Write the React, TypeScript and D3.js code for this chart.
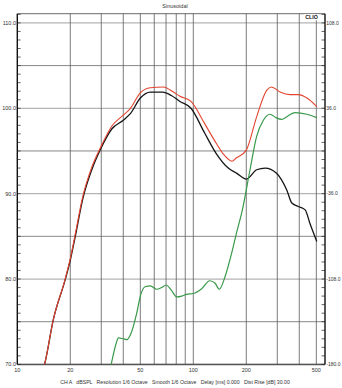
import React from "react";
import * as d3 from "d3";

const blackFreq = [13, 14.4, 16, 18.7, 20, 21.5, 23.5, 26.5, 29.7, 34.5, 40, 44, 50, 57, 67, 75, 84, 97, 116, 135, 158, 176, 200, 229, 256, 297, 340, 363, 395, 432, 460, 503];
const blackDb = [67.5, 70.3, 75.2, 79.9, 82.2, 85.3, 89.3, 92.8, 95.2, 97.6, 98.6, 99.4, 101.2, 101.9, 101.9, 101.5, 100.8, 100.0, 97.1, 94.7, 93.0, 92.4, 91.7, 92.8, 93.0, 92.4, 90.4, 88.9, 88.5, 88.1, 86.5, 84.4];

const redFreq = [13, 14.4, 16, 18.7, 20, 21.5, 23.5, 26.5, 29.7, 34.4, 40, 43.6, 50, 57, 67.5, 77, 84, 97, 116, 135, 150, 165.6, 176, 200, 229, 261, 278, 311, 354, 395, 442, 503];
const redDb = [67.5, 70.3, 75.2, 80, 82.4, 85.6, 89.6, 93.1, 95.4, 97.9, 99.2, 99.9, 101.8, 102.4, 102.5, 101.9, 101.4, 100.8, 98.2, 95.9, 94.5, 93.8, 94.2, 95.1, 99.0, 102.1, 102.5, 101.9, 101.6, 101.6, 101.2, 100.2];

const greenFreq = [33, 34.4, 36.5, 37.5, 40, 42, 44, 47.7, 50, 53.2, 57, 62, 66, 70, 75, 80.6, 86, 91.6, 100, 112, 124, 133, 140.6, 151.6, 165, 176, 190, 210, 229, 250, 273, 295, 317, 345, 378, 442, 503];
const greenDb = [68.5, 70.3, 72.5, 73.1, 73.0, 72.9, 73.5, 76.0, 78.0, 79.1, 79.2, 78.8, 79.0, 79.3, 78.7, 77.9, 78.0, 78.2, 78.3, 78.9, 79.8, 79.5, 78.8, 80.3, 83.0, 85.4, 88.1, 92.8, 96.7, 98.6, 99.3, 98.9, 98.7, 99.1, 99.5, 99.3, 98.9];

const leftTicks = [110, 100, 90, 80, 70];
const leftLabels = ["110.0", "100.0", "90.0", "80.0", "70.0"];
const rightLabels = ["108.0", "36.0", "-36.0", "-108.0", "-180.0"];
const xGrid = [20, 30, 40, 50, 60, 70, 80, 90, 100, 200, 300, 400, 500];
const xLabelVals = [10, 20, 50, 100, 200, 500];
const title = "Sinusoidal";
const caption = "CH A   dBSPL   Resolution 1/6 Octave   Smooth 1/6 Octave   Delay [ms] 0.000   Dist Rise [dB] 30.00";

const W = 342, H = 388;
const L = 17.3, R = 325, T = 13.7, B = 364.5;
const FONT = "Liberation Sans, Arial, sans-serif";

export default function App() {
  const x = d3.scaleLog().domain([10, 560]).range([L, R]);
  const y = d3.scaleLinear().domain([70, 110]).range([364.4, 22.9]);
  const line = d3
    .line<[number, number]>()
    .x((d) => x(d[0]))
    .y((d) => y(d[1]))
    .curve(d3.curveMonotoneX);
  const mk = (f: number[], v: number[]) => line(f.map((ff, i) => [ff, v[i]]) as [number, number][]) || "";

  const minor = d3.range(70, 112, 1);
  const halfGrid = [105, 95, 85, 75];

  return (
    <svg width={W} height={H} style={{ position: "fixed", left: 0, top: 0, background: "#fff" }} fontFamily={FONT}>
      <rect x={0} y={0} width={W} height={H} fill="#fff" />
      <defs>
        <clipPath id="plot">
          <rect x={L} y={T} width={R - L} height={B - T} />
        </clipPath>
      </defs>
      <text x={175} y={8} fontSize={5.5} textAnchor="middle" fill="#333">{title}</text>
      {leftTicks.map((v) => (
        <line key={"g" + v} x1={L} x2={R} y1={y(v)} y2={y(v)} stroke="#b4b4b4" strokeWidth={1.3} />
      ))}
      {halfGrid.map((v) => (
        <line key={"h" + v} x1={L} x2={R} y1={y(v)} y2={y(v)} stroke="#6a6a6a" strokeWidth={0.8} />
      ))}
      {xGrid.map((f) => (
        <line key={"v" + f} x1={x(f)} x2={x(f)} y1={T} y2={B} stroke="#5a5a5a" strokeWidth={0.8} />
      ))}
      <line x1={L} x2={R} y1={T} y2={T} stroke="#444" strokeWidth={0.8} />
      <line x1={L} x2={R} y1={B} y2={B} stroke="#555" strokeWidth={1.4} />
      <line x1={L} x2={L} y1={T} y2={B} stroke="#111" strokeWidth={1.4} />
      <line x1={R} x2={R} y1={T} y2={B} stroke="#111" strokeWidth={1.4} />
      {minor.map((v) => (
        <g key={"t" + v}>
          <line x1={L} x2={L + 3.3} y1={y(v)} y2={y(v)} stroke="#222" strokeWidth={0.7} />
          <line x1={R - 3.5} x2={R} y1={y(v)} y2={y(v)} stroke="#222" strokeWidth={0.7} />
        </g>
      ))}
      <rect x={304} y={14.3} width={15} height={6} fill="#fff" />
      <text x={311.5} y={19.3} fontSize={5.3} fontWeight="bold" textAnchor="middle" fill="#111">CLIO</text>
      <g clipPath="url(#plot)" fill="none" strokeLinejoin="round">
        <path d={mk(blackFreq, blackDb)} stroke="#151515" strokeWidth={1.3} />
        <path d={mk(redFreq, redDb)} stroke="#e4442f" strokeWidth={1.1} />
        <path d={mk(greenFreq, greenDb)} stroke="#38994a" strokeWidth={1.2} />
      </g>
      {leftTicks.map((v, i) => (
        <text key={"ll" + v} x={16} y={y(v) + 1.9} fontSize={5.5} textAnchor="end" fill="#333">{leftLabels[i]}</text>
      ))}
      {leftTicks.map((v, i) => (
        <text key={"rl" + v} x={326.3} y={y(v) + 1.8} fontSize={5} textAnchor="start" fill="#333">{rightLabels[i]}</text>
      ))}
      {xLabelVals.map((f) => (
        <text key={"xl" + f} x={x(f)} y={371.5} fontSize={5.5} textAnchor="middle" fill="#333">{f}</text>
      ))}
      <text x={175} y={383.5} fontSize={5.2} textAnchor="middle" fill="#333" style={{ whiteSpace: "pre" }}>{caption}</text>
    </svg>
  );
}
